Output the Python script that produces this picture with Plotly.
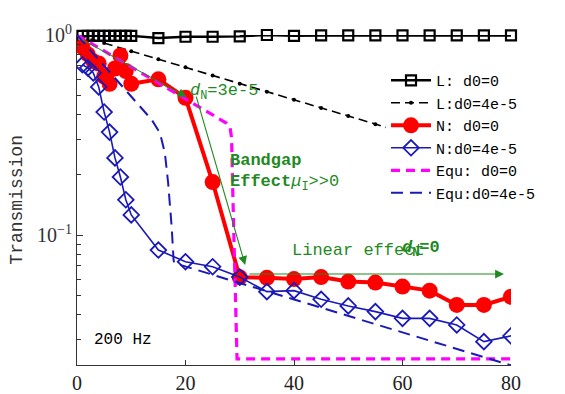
import math
import plotly.graph_objects as go

# ---------------- data ----------------
x_L = [1, 2, 3, 4, 5, 6, 7, 8, 9, 10, 15, 20, 25, 30, 35, 40, 45, 50, 55, 60, 65, 70, 75, 80]
L_d0 = [0.99, 0.99, 0.99, 0.99, 0.99, 0.99, 0.99, 0.99, 0.99, 0.99, 0.965, 0.98, 0.98, 0.985,
        1.0, 0.99, 0.995, 0.995, 0.995, 0.995, 0.995, 0.995, 0.995, 0.995]

x_Ld = [0, 5, 10, 15, 20, 25, 30, 35, 40, 45, 50, 55, 60, 65, 70, 75, 80]
L_d4 = [1.0, 0.911, 0.830, 0.756, 0.689, 0.627, 0.571, 0.521, 0.474, 0.432, 0.394, 0.358,
        0.327, 0.298, 0.271, 0.247, 0.225]

x_N = [1, 2, 3, 4, 5, 6, 7, 8, 9, 10, 15, 20, 25, 30, 35, 40, 45, 50, 55, 60, 65, 70, 75, 80]
N_d0 = [0.87, 0.80, 0.74, 0.72, 0.62, 0.57, 0.68, 0.79, 0.66, 0.57, 0.60, 0.485, 0.184, 0.0614,
        0.0611, 0.0602, 0.0616, 0.0585, 0.0578, 0.0552, 0.0527, 0.0447, 0.0447, 0.0491]
N_d4 = [0.71, 0.685, 0.646, 0.55, 0.412, 0.327, 0.243, 0.195, 0.150, 0.126, 0.0841, 0.0735,
        0.0694, 0.0616, 0.0521, 0.0527, 0.0477, 0.0442, 0.0414, 0.0383, 0.0383, 0.0355, 0.0293, 0.0313]

x_E0 = [0, 27.6, 28.2, 28.5, 28.75, 29.5, 80]
E_d0 = [1.0, 0.362, 0.347, 0.305, 0.150, 0.024, 0.024]

x_E4 = [0, 11.4, 13.8, 15.3, 16.2, 16.8, 17.45, 17.8, 17.9, 80]
E_d4 = [1.0, 0.45, 0.376, 0.323, 0.257, 0.182, 0.110, 0.075, 0.0724, 0.0223]

names = ["L: d0=0", "L:d0=4e-5", "N: d0=0", "N:d0=4e-5", "Equ: d0=0", "Equ:d0=4e-5"]

MONO = "Liberation Mono, Courier New, monospace"
SERIF = "Liberation Serif, Times New Roman, serif"
GREEN = "#1f8a1f"
BLUE = "#1a1ab8"

fig = go.Figure()
fig.add_trace(go.Scatter(x=x_L, y=L_d0, name=names[0], mode="lines+markers",
                         line=dict(color="black", width=2.5),
                         marker=dict(symbol="square-open", size=10, color="black",
                                     line=dict(width=2.2, color="black")),
                         cliponaxis=False))
fig.add_trace(go.Scatter(x=x_Ld, y=L_d4, name=names[1], mode="lines+markers",
                         line=dict(color="black", width=1.6, dash="9px,5px"),
                         marker=dict(symbol="circle", size=4, color="black")))
fig.add_trace(go.Scatter(x=x_N, y=N_d0, name=names[2], mode="lines+markers",
                         line=dict(color="#ff0000", width=4),
                         marker=dict(symbol="circle", size=16, color="#ff0000")))
fig.add_trace(go.Scatter(x=x_N, y=N_d4, name=names[3], mode="lines+markers",
                         line=dict(color=BLUE, width=1.6),
                         marker=dict(symbol="diamond-open", size=12, color=BLUE,
                                     line=dict(width=1.8, color=BLUE))))
fig.add_trace(go.Scatter(x=x_E0, y=E_d0, name=names[4], mode="lines",
                         line=dict(color="#ff00ff", width=3.2, dash="9px,6px")))
fig.add_trace(go.Scatter(x=x_E4, y=E_d4, name=names[5], mode="lines",
                         line=dict(color=BLUE, width=2, dash="12px,7px")))

lg = math.log10
annotations = [
    # arrows
    dict(x=20.2, y=lg(0.49), ax=0.6, ay=lg(0.96), xref="x", yref="y", axref="x", ayref="y",
         showarrow=True, arrowhead=2, arrowsize=1.6, arrowwidth=1.1, arrowcolor=GREEN, text=""),
    dict(x=31.0, y=lg(0.0708), ax=21.9, ay=lg(0.50), xref="x", yref="y", axref="x", ayref="y",
         showarrow=True, arrowhead=2, arrowsize=1.6, arrowwidth=1.1, arrowcolor=GREEN, text=""),
    dict(x=78.7, y=lg(0.0638), ax=31.5, ay=lg(0.0638), xref="x", yref="y", axref="x", ayref="y",
         showarrow=True, arrowhead=2, arrowsize=1.6, arrowwidth=1.1, arrowcolor=GREEN, text=""),
    # texts
    dict(x=20.4, y=lg(0.52), xref="x", yref="y", xanchor="left", yanchor="middle", showarrow=False,
         text="<i>d</i><sub>N</sub>=3e-5", font=dict(family=MONO, size=17, color=GREEN)),
    dict(x=27.8, y=lg(0.237), xref="x", yref="y", xanchor="left", yanchor="middle", showarrow=False,
         text="<b>Bandgap</b>", font=dict(family=MONO, size=17, color=GREEN)),
    dict(x=27.8, y=lg(0.181), xref="x", yref="y", xanchor="left", yanchor="middle", showarrow=False,
         text="<b>Effect</b><i>μ</i><sub>I</sub>&gt;&gt;0", font=dict(family=MONO, size=17, color=GREEN)),
    dict(x=39.2, y=lg(0.0835), xref="x", yref="y", xanchor="left", yanchor="middle", showarrow=False,
         text="Linear effect", font=dict(family=MONO, size=17, color=GREEN)),
    dict(x=59.6, y=lg(0.085), xref="x", yref="y", xanchor="left", yanchor="middle", showarrow=False,
         text="<b><i>d</i><sub>N</sub>=0</b>", font=dict(family=MONO, size=17, color=GREEN)),
    dict(x=2.7, y=lg(0.0298), xref="x", yref="y", xanchor="left", yanchor="middle", showarrow=False,
         text="200 Hz", font=dict(family=MONO, size=16, color="black")),
    # y-axis title
    dict(x=-0.139, y=0.5, xref="paper", yref="paper", xanchor="center", yanchor="middle",
         showarrow=False, textangle=-90, text="Transmission",
         font=dict(family=MONO, size=18, color="#333")),
]

minor_vals = [0.03, 0.04, 0.05, 0.06, 0.07, 0.08, 0.09, 0.2, 0.3, 0.4, 0.5, 0.6, 0.7, 0.8, 0.9]

# the page body adds an 8px margin, so the figure is 8px smaller and margins shifted
fig.update_layout(
    width=557, height=386,
    margin=dict(l=69, r=54, t=27, b=29),
    paper_bgcolor="white", plot_bgcolor="white",
    annotations=annotations,
    showlegend=True,
    legend=dict(x=0.712, y=0.912, xanchor="left", yanchor="top", bgcolor="white",
                borderwidth=0, font=dict(family=MONO, size=15, color="black"),
                tracegroupgap=0, itemwidth=40),
    xaxis=dict(range=[0, 80], tickvals=[0, 20, 40, 60, 80], ticks="inside", ticklen=5,
               tickcolor="#333", showline=True, linecolor="#333", linewidth=1.2,
               showgrid=False, zeroline=False, mirror=False, automargin=False,
               tickfont=dict(family=SERIF, size=20, color="#222")),
    yaxis=dict(type="log", range=[-1.65, 0], tickvals=[0.1, 1],
               ticktext=["10<sup>−1</sup>", "10<sup>0</sup>"],
               ticks="inside", ticklen=6, tickcolor="#333", showline=True, linecolor="#333",
               linewidth=1.2, showgrid=False, zeroline=False, mirror=False, automargin=False,
               tickfont=dict(family=SERIF, size=20, color="#333"),
               minor=dict(tickvals=minor_vals, ticks="inside", ticklen=4, tickcolor="#333")),
)

fig.write_html("out.html")
